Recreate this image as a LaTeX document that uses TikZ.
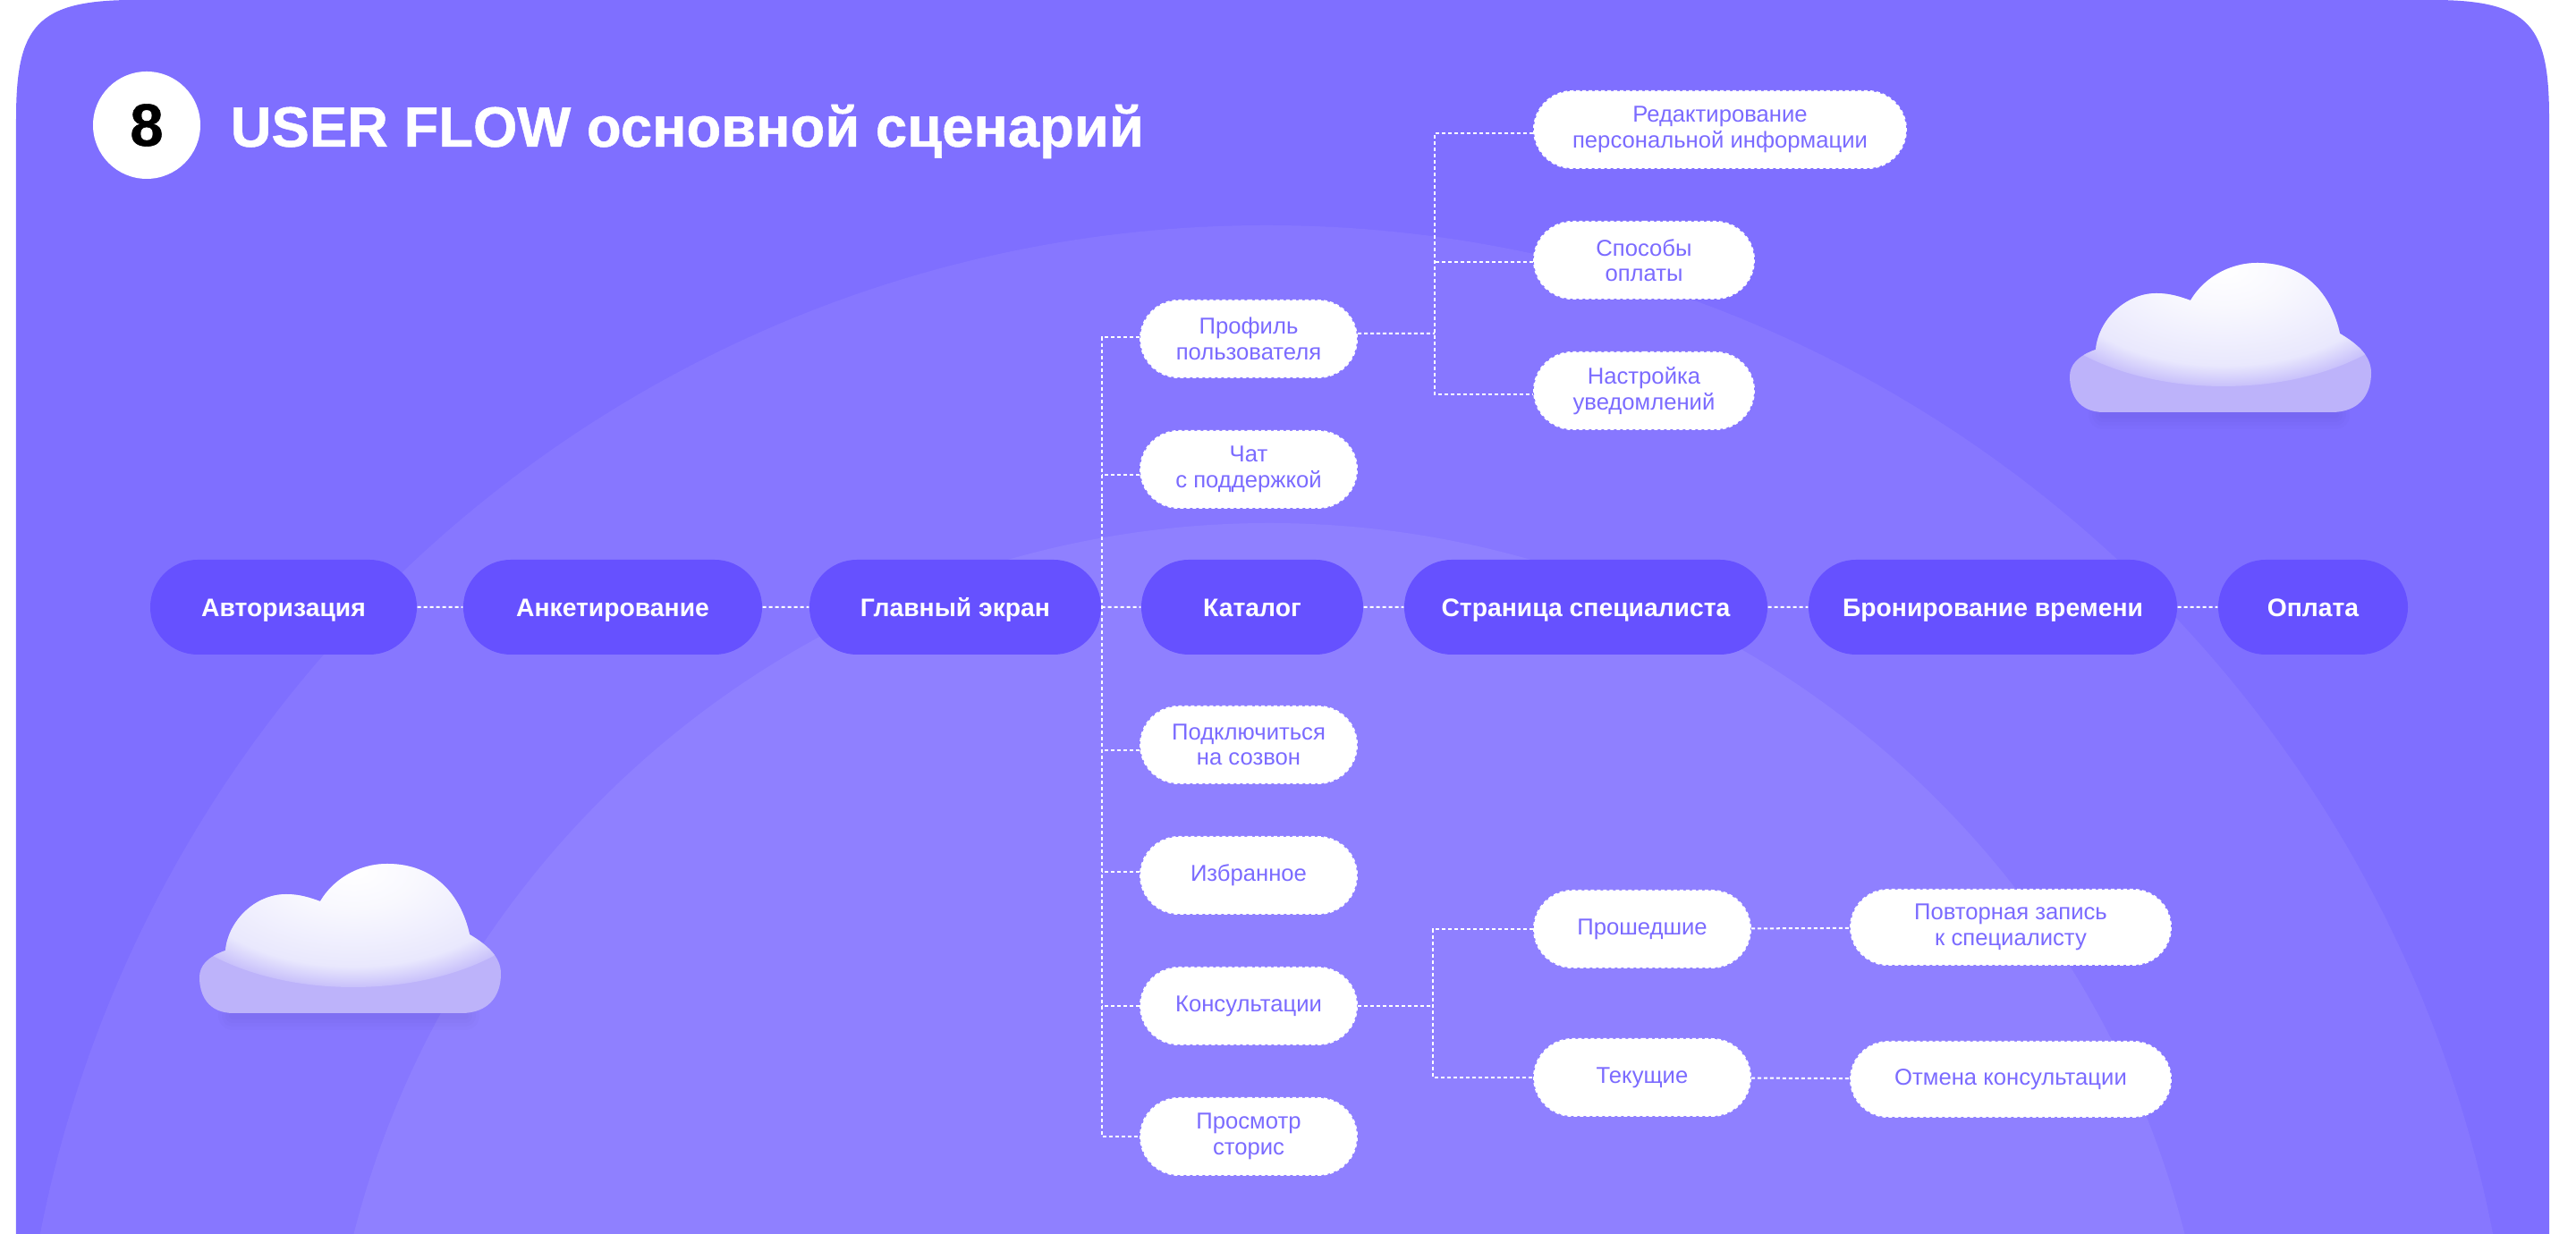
\documentclass[tikz,border=0pt]{standalone}
\usepackage{fontspec}
\usetikzlibrary{shapes.misc}
\setmainfont{Liberation Sans}
\newfontfamily\headfont{Liberation Sans}[BoldFeatures={FakeBold=.8}]
\definecolor{panelviolet}{HTML}{7F6FFF}
\definecolor{ringviolet}{HTML}{8777FF}
\definecolor{coreviolet}{HTML}{8F80FF}
\definecolor{mainviolet}{HTML}{6651FF}
\definecolor{textviolet}{HTML}{7B6BFF}
\definecolor{cloudbase}{HTML}{BDB3FA}
\definecolor{cloudmid}{HTML}{E9E8FD}
\pgfdeclareradialshading{cloudglow}{\pgfpoint{0bp}{0bp}}{%
  color(0bp)=(white); color(8bp)=(white!70!cloudmid); color(20.5bp)=(cloudmid); color(26.5bp)=(cloudbase); color(50bp)=(cloudbase)}
\tikzset{
  mainstep/.style={rounded rectangle, fill=mainviolet, text=white, inner sep=0pt, minimum height=1.06cm, text height=.205cm, text depth=0pt, font=\fontsize{8.05}{10}\selectfont\bfseries},
  substep/.style={rounded rectangle, fill=white, draw=white, dash pattern=on 1.14pt off .85pt, line width=.57pt, text=textviolet, inner sep=0pt, minimum height=.86cm, align=center, font=\fontsize{7.3}{8.1}\selectfont},
  flow/.style={draw=white, line width=.57pt, dash pattern=on 1.14pt off .85pt},
  cloudform/.pic={
    \foreach \w in {.08,.16,.24,.32}
      \draw[black!60!panelviolet, opacity=.02, line width=\w cm, line cap=round] (2.6,-11.36) -- (5.2,-11.36);
    \begin{scope}
      \clip (2.61,-11.33) .. controls (2.32,-11.33) and (2.23,-11.12) .. (2.23,-10.93)
        .. controls (2.23,-10.8) and (2.32,-10.7) .. (2.52,-10.63)
        .. controls (2.55,-10.3) and (2.85,-10) .. (3.2,-10)
        .. controls (3.35,-10) and (3.47,-10.04) .. (3.58,-10.08)
        .. controls (3.72,-9.84) and (4,-9.66) .. (4.33,-9.66)
        .. controls (4.85,-9.66) and (5.15,-10) .. (5.25,-10.45)
        .. controls (5.45,-10.57) and (5.6,-10.7) .. (5.6,-10.89)
        .. controls (5.6,-11.15) and (5.45,-11.33) .. (5.16,-11.33) -- cycle;
      \fill[cloudbase] (2.2,-11.4) rectangle (5.7,-9.6);
      \shade[shading=cloudglow] (3.95,-9.74) ellipse (2.3 and 1.3);
    \end{scope}
  }
}
\begin{document}
\begin{tikzpicture}
  \useasboundingbox (0,0) rectangle (28.8,13.8);
  % panel and rings
  \fill[panelviolet] (.18,0) -- (.18,12.47) .. controls (.18,13.5) and (.4,13.8) .. (1.5,13.8) -- (27.2,13.8) .. controls (28.3,13.8) and (28.5,13.5) .. (28.5,12.47) -- (28.5,0) -- cycle;
  \begin{scope}
    \clip (.18,0) rectangle (28.5,13.8);
    \fill[ringviolet] (14.16,-2.69) circle (13.97);
    \fill[coreviolet] (14.19,-2.61) circle (10.56);
  \end{scope}
  % clouds
  \pic at (0,13.8) {cloudform};
  \pic at (20.91,20.52) {cloudform};
  % heading
  \draw (1.64,12.4) node[circle, fill=white, minimum size=1.2cm, inner sep=0pt] (badge) {\fontsize{19}{20}\headfont\bfseries 8};
  \draw (2.57,12.16) node[anchor=base west, inner sep=0pt, text=white] (heading) {\fontsize{18.05}{20}\headfont\bfseries USER FLOW основной сценарий};
  % main row
  \draw (3.17,7.01) node[mainstep, minimum width=2.98cm] (auth) {Авторизация};
  \draw (6.85,7.01) node[mainstep, minimum width=3.34cm] (survey) {Анкетирование};
  \draw (10.68,7.01) node[mainstep, minimum width=3.26cm] (home) {Главный экран};
  \draw (14,7.01) node[mainstep, minimum width=2.48cm] (catalog) {Каталог};
  \draw (17.73,7.01) node[mainstep, minimum width=4.06cm] (expert) {Страница специалиста};
  \draw (22.28,7.01) node[mainstep, minimum width=4.12cm] (booking) {Бронирование времени};
  \draw (25.86,7.01) node[mainstep, minimum width=2.12cm] (payment) {Оплата};
  % branches of the home screen
  \draw (13.96,10.01) node[substep, minimum width=2.42cm] (profile) {Профиль\\пользователя};
  \draw (13.96,8.55) node[substep, minimum width=2.42cm] (chat) {Чат\\с поддержкой};
  \draw (13.96,5.47) node[substep, minimum width=2.42cm] (call) {Подключиться\\на созвон};
  \draw (13.96,4.01) node[substep, minimum width=2.42cm] (favs) {Избранное};
  \draw (13.96,2.55) node[substep, minimum width=2.42cm] (consult) {Консультации};
  \draw (13.96,1.09) node[substep, minimum width=2.42cm] (stories) {Просмотр\\сторис};
  % profile settings
  \draw (19.23,12.35) node[substep, minimum width=4.16cm] (edit) {Редактирование\\персональной информации};
  \draw (18.38,10.89) node[substep, minimum width=2.46cm] (pay) {Способы\\оплаты};
  \draw (18.38,9.43) node[substep, minimum width=2.46cm] (notify) {Настройка\\уведомлений};
  % consultations
  \draw (18.36,3.41) node[substep, minimum width=2.42cm] (past) {Прошедшие};
  \draw (18.36,1.75) node[substep, minimum width=2.42cm] (now) {Текущие};
  \draw (22.48,3.43) node[substep, minimum width=3.58cm, minimum height=.84cm] (again) {Повторная запись\\к специалисту};
  \draw (22.48,1.73) node[substep, minimum width=3.58cm, minimum height=.84cm] (cancel) {Отмена консультации};
  % links
  \draw[flow] (auth) -- (survey);
  \draw[flow] (survey) -- (home);
  \draw[flow] (home) -- (catalog);
  \draw[flow] (catalog) -- (expert);
  \draw[flow] (expert) -- (booking);
  \draw[flow] (booking) -- (payment);
  \draw[flow] ([yshift=.02cm]profile.west) -- ([yshift=.02cm]profile.west -| home.east) -- (stories.west -| home.east) -- (stories.west);
  \draw[flow] ([yshift=-.06cm]chat.west) -- ([yshift=-.06cm]chat.west -| home.east);
  \draw[flow] ([yshift=-.06cm]call.west) -- ([yshift=-.06cm]call.west -| home.east);
  \draw[flow] ([yshift=.04cm]favs.west) -- ([yshift=.04cm]favs.west -| home.east);
  \draw[flow] (consult.west) -- (consult.west -| home.east);
  \coordinate (profilefork) at (16.04,10.07);
  \coordinate (consultfork) at (16.02,2.55);
  \draw[flow] ([yshift=.06cm]profile.east) -- (profilefork);
  \draw[flow] ([yshift=-.04cm]edit.west) -| ([yshift=-.04cm]profilefork |- notify.west) -- ([yshift=-.04cm]notify.west);
  \draw[flow] ([yshift=-.02cm]pay.west) -- ([yshift=-.02cm]pay.west -| profilefork);
  \draw[flow] (consult.east) -- (consultfork);
  \draw[flow] (past.west) -| (consultfork |- now.west) -- (now.west);
  \draw[flow] (past) -- (again);
  \draw[flow] (now) -- (cancel);
\end{tikzpicture}
\end{document}
